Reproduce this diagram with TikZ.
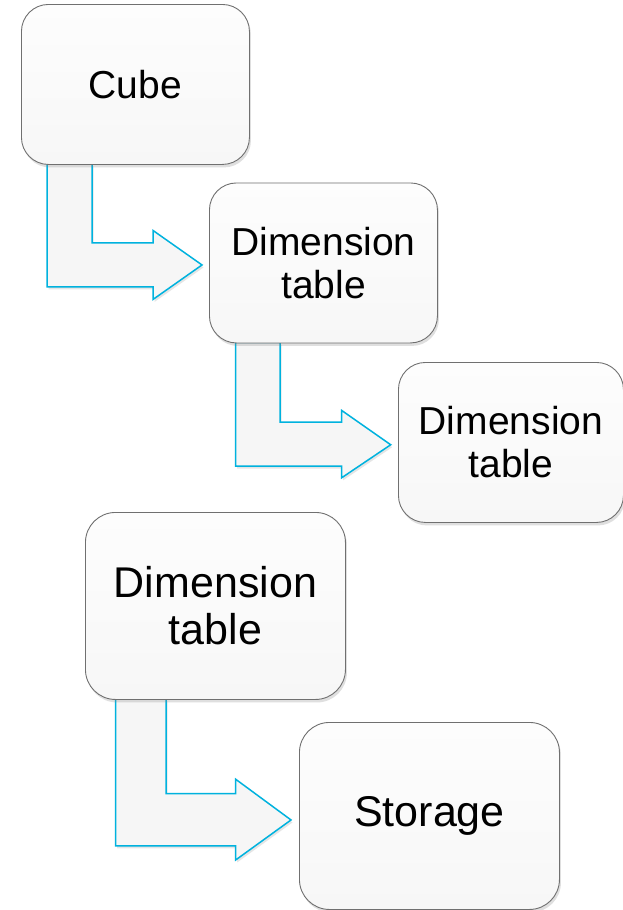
\documentclass[tikz,border=0pt]{standalone}
\usepackage{fontspec}
\setmainfont{Liberation Sans}
\usetikzlibrary{shadows,backgrounds,calc}
\definecolor{boxline}{RGB}{112,112,112}
\definecolor{arrowline}{RGB}{0,178,222}
\definecolor{arrowfill}{RGB}{246,246,246}
\definecolor{boxtop}{RGB}{253,253,253}
\definecolor{boxbottom}{RGB}{247,247,247}
\tikzset{
  boxbase/.style={rectangle, draw=boxline, line width=0.9pt, top color=boxtop, bottom color=boxbottom,
    drop shadow={opacity=0.25, shadow xshift=1.5pt, shadow yshift=-3pt},
    align=center, anchor=north west, inner sep=0pt, text=black},
  smallbox/.style={boxbase, minimum width=228pt, minimum height=160pt, rounded corners=27pt,
    font=\fontsize{39}{43}\selectfont},
  bigbox/.style={boxbase, minimum width=260pt, minimum height=187pt, rounded corners=30pt,
    font=\fontsize{43}{47}\selectfont},
  flowarrow/.style={draw=arrowline, fill=arrowfill, line width=1.5pt, line join=miter,
    drop shadow={opacity=0.2, shadow xshift=1.5pt, shadow yshift=-2.5pt}}
}
\begin{document}
\begin{tikzpicture}[x=1pt,y=-1pt]
\useasboundingbox (0,0) rectangle (623,910);
\node[smallbox] (b1) at (21,4) {Cube};
\node[smallbox] (b2) at (209,182.5) {Dimension\\table};
\node[smallbox, minimum width=225pt] (b3) at (398,362) {Dimension\\table};
\node[bigbox] (b4) at (85,512) {Dimension\\table};
\node[bigbox] (b5) at (299,722) {Storage};
\begin{pgfonlayer}{background}
\fill[white] (0,0) rectangle (623,910);
\draw[flowarrow] let \p1=(b1.south west), \p2=(b2.west) in
  (\x1+26pt,\y1+1pt) -- (\x1+71pt,\y1+1pt) -- (\x1+71pt,\y2+20pt) -- (\x2-56pt,\y2+20pt)
  -- (\x2-56pt,\y2+32.5pt) -- (\x2-7pt,\y2-2pt) -- (\x2-56pt,\y2-36.5pt) -- (\x2-56pt,\y2-24pt)
  -- (\x1+26pt,\y2-24pt) -- cycle;
\draw[flowarrow] let \p1=(b2.south west), \p2=(b3.west) in
  (\x1+26.7pt,\y1+1pt) -- (\x1+71pt,\y1+1pt) -- (\x1+71pt,\y2+20.3pt) -- (\x2-56.3pt,\y2+20.3pt)
  -- (\x2-56.3pt,\y2+32pt) -- (\x2-7.3pt,\y2-2.3pt) -- (\x2-56.3pt,\y2-35.3pt) -- (\x2-56.3pt,\y2-23.7pt)
  -- (\x1+26.7pt,\y2-23.7pt) -- cycle;
\draw[flowarrow] let \p1=(b4.south west), \p2=(b5.west) in
  (\x1+30.7pt,\y1+1pt) -- (\x1+81pt,\y1+1pt) -- (\x1+81pt,\y2+22.3pt) -- (\x2-63.3pt,\y2+22.3pt)
  -- (\x2-63.3pt,\y2+36.7pt) -- (\x2-8pt,\y2-4pt) -- (\x2-63.3pt,\y2-44pt) -- (\x2-63.3pt,\y2-30pt)
  -- (\x1+30.7pt,\y2-30pt) -- cycle;
\end{pgfonlayer}
\end{tikzpicture}
\end{document}
